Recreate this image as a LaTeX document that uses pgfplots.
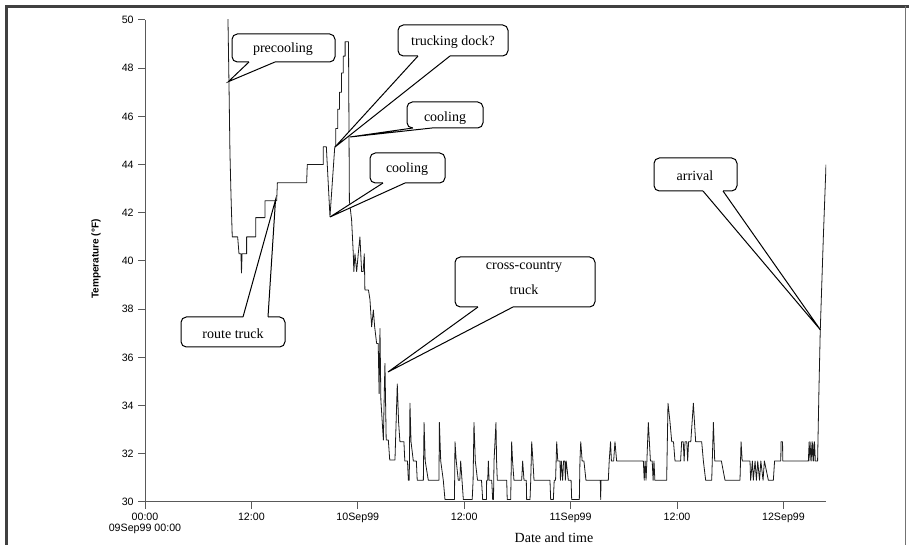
\documentclass[border=0pt]{standalone}
\usepackage{fontspec}
\setmainfont{Liberation Serif}
\newfontfamily\arial{Liberation Sans}
\usepackage{pgfplots}
\pgfplotsset{compat=1.18}
\usepackage{pgfplotstable}

% logger trace: hours since 09Sep99 00:00, temperature in F
\pgfplotstableread{
hour temp
9.35 50.2
9.47 47.4
9.58 44.5
9.70 42.7
9.84 41.0
10.45 41.0
10.60 40.3
10.82 40.3
10.88 39.5
10.95 40.3
11.46 40.3
11.46 41.0
12.48 41.0
12.48 41.8
13.53 41.8
13.53 42.5
14.85 42.5
14.93 43.25
18.23 43.25
18.30 44.0
20.11 44.0
20.11 44.74
20.45 44.74
20.86 41.84
21.40 44.74
21.52 44.74
21.52 45.5
21.73 45.5
21.73 46.3
21.94 46.3
21.94 47.0
22.15 47.0
22.15 47.8
22.36 47.8
22.36 48.5
22.57 48.5
22.57 49.1
22.95 49.1
23.05 42.5
23.30 41.7
23.49 40.3
23.55 39.56
23.68 40.3
23.87 39.56
24.05 40.3
24.24 41.0
24.43 39.56
24.60 39.56
24.73 40.3
24.80 38.8
25.20 38.8
25.37 38.4
25.56 37.27
25.75 37.97
25.90 37.27
26.12 36.58
26.30 36.58
26.40 34.5
26.50 37.2
26.60 34.23
26.88 32.57
27.00 34.8
27.06 35.75
27.20 32.57
27.44 32.57
27.60 31.74
28.19 31.74
28.45 34.9
28.60 33.3
28.75 32.5
29.20 32.5
29.30 31.7
29.60 31.7
29.70 30.9
29.80 30.9
29.88 34.1
30.00 32.5
30.26 31.7
30.60 31.7
30.70 30.9
31.39 30.9
31.47 33.3
31.60 31.7
31.95 30.9
33.15 30.9
33.20 33.3
33.35 31.7
33.64 30.9
33.83 30.1
34.90 30.1
34.96 32.5
35.10 31.7
35.33 30.9
35.50 30.9
35.60 31.7
35.75 30.9
35.90 30.1
36.90 30.1
37.00 30.9
37.10 33.3
37.25 31.7
37.50 30.9
37.95 30.9
38.08 30.1
38.50 30.1
38.53 30.9
38.65 30.9
38.72 31.7
38.80 30.9
39.10 30.9
39.21 30.1
39.30 30.1
39.36 31.7
39.58 33.3
39.65 31.7
39.73 30.9
40.79 30.9
40.85 30.1
41.24 30.1
41.35 32.5
41.45 31.7
41.61 30.9
42.48 30.9
42.59 31.7
42.74 30.9
43.00 30.9
43.04 30.1
43.42 30.1
43.50 30.9
43.61 32.5
43.75 31.7
43.87 30.9
45.67 30.9
45.75 30.1
46.05 30.1
46.15 30.9
46.30 30.9
46.43 32.5
46.55 31.7
46.80 31.7
46.85 30.9
46.95 31.7
47.10 30.9
47.20 31.7
47.35 31.7
47.40 30.9
47.50 31.7
47.74 30.9
48.05 30.9
48.12 30.1
48.98 30.1
49.05 31.7
49.14 32.5
49.30 31.7
49.50 31.7
49.73 30.9
51.35 30.9
51.39 30.1
51.43 30.9
52.25 30.9
52.35 31.7
52.50 32.5
52.60 31.7
52.85 31.7
53.00 32.5
53.19 31.7
56.20 31.7
56.30 30.9
56.40 31.7
56.50 30.9
56.60 31.7
56.76 33.3
57.00 31.7
57.20 31.7
57.30 30.9
57.40 31.7
57.50 30.9
58.83 30.9
58.98 34.1
59.21 33.3
59.40 32.5
59.60 32.5
59.77 31.7
60.40 31.7
60.52 32.5
60.70 32.5
60.80 31.7
60.90 32.5
61.10 32.5
61.20 31.7
61.30 32.5
61.55 32.5
61.84 34.1
62.10 32.5
62.78 32.5
62.97 31.7
63.23 30.9
63.91 30.9
64.10 33.3
64.25 31.7
65.00 31.7
65.41 30.9
67.10 30.9
67.22 32.5
67.35 31.7
68.23 31.7
68.30 30.9
68.50 31.7
68.60 30.9
68.80 31.7
68.95 30.9
69.10 31.7
69.30 30.9
69.45 31.7
69.70 30.9
69.85 31.7
70.30 30.9
70.86 30.9
71.00 31.7
71.70 31.7
71.73 32.5
71.90 32.5
71.92 31.7
74.81 31.7
74.90 32.5
75.00 31.7
75.10 32.5
75.20 31.7
75.30 32.5
75.40 31.7
75.50 32.5
75.60 31.7
75.85 31.7
76.00 34.6
76.15 37.1
76.50 41.0
76.80 44.0
}\logger

\newcommand\tickfont{\arial\fontsize{8}{8.25}\selectfont}
\newcommand\notefont{\fontsize{10.5}{12}\selectfont}
\tikzset{
  co/.style={draw=black, line width=0.75pt, fill=white, rounded corners=4pt},
  cl/.style={draw=black, line width=0.75pt},
}
% #1,#2 far corner; #3,#4 corner on pointer side; #5,#6 pointer base x; #7,#8 tip
\newcommand\callout[8]{%
  \draw[co] (#1,#2) rectangle (#3,#4);
  \fill[white] (#5,#4-0.7) rectangle (#6,#4+0.7);
  \fill[white] (#5,#4) -- (#6,#4) -- (#7,#8) -- cycle;
  \draw[cl] (#5,#4) -- (#7,#8) -- (#6,#4);
}

\begin{document}
\begin{tikzpicture}
\useasboundingbox (0,0) rectangle (681.75pt,408.75pt);
\begin{axis}[
  at={(108.75pt,32.25pt)}, anchor=south west,
  scale only axis, width=510.75pt, height=361.5pt,
  xmin=0, xmax=76.8, ymin=30, ymax=50,
  axis x line*=bottom, axis y line*=left,
  axis line style={-, draw=black!65, line width=0.75pt},
  tick align=outside, major tick length=5pt,
  tick style={draw=black!65, line width=0.75pt},
  xtick={0,12,...,72}, ytick={30,32,...,50},
  xticklabels={{00:00\\09Sep99 00:00},12:00,10Sep99,12:00,11Sep99,12:00,12Sep99},
  x tick label style={align=center, font=\tickfont},
  y tick label style={font=\tickfont},
  /pgf/number format/assume math mode=true,
]
\addplot[black!90, line width=0.6pt, no markers, line join=round] table[x=hour, y=temp] {\logger};
\end{axis}

% annotations in pixel units of the 909x545 picture
\begin{scope}[x=0.75pt, y=-0.75pt, shift={(0pt,408.75pt)}]
  \draw[black!75, line width=2.25pt] (6.5,546) -- (6.5,6.5) -- (909,6.5);
  \draw[black!55, line width=0.75pt] (905.5,6.5) -- (905.5,546);

  \node[font=\notefont, anchor=base] at (554,543) {Date and time};
  \node[font=\arial\bfseries\fontsize{7.5}{9}\selectfont, rotate=90] at (96,259) {Temperature (°F)};

  \callout{232}{34}{335}{62}{249}{275}{228.3}{81.7}
  \node[font=\notefont] at (283,49) {precooling};

  \callout{398}{25}{508}{56}{418}{450}{335}{147}
  \node[font=\notefont] at (453,42) {trucking dock?};

  \callout{407}{102}{483}{128}{413}{432}{350}{137}
  \node[font=\notefont] at (445,118) {cooling};

  \callout{370}{153}{445}{183}{383}{405}{330}{217}
  \node[font=\notefont] at (407,169) {cooling};

  \callout{181}{347}{285}{317}{243}{268}{275.5}{200}
  \node[font=\notefont] at (233,334) {route truck};

  \callout{455}{257}{595}{307}{478}{513}{388}{372}
  \node[font=\notefont] at (524,267) {cross-country};
  \node[font=\notefont] at (524,290) {truck};

  \callout{654}{158}{737}{191}{703}{723}{820.5}{330}
  \node[font=\notefont] at (695,176) {arrival};
\end{scope}
\end{tikzpicture}
\end{document}
